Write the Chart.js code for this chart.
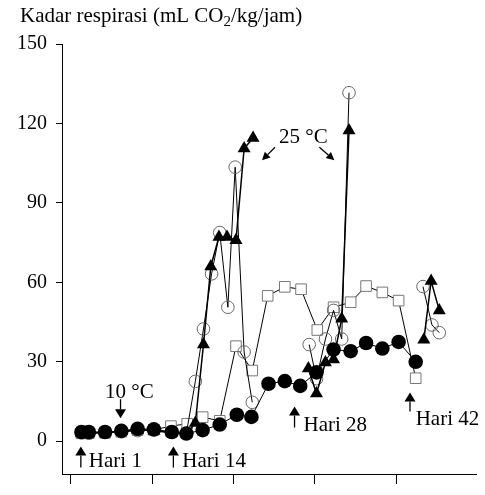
<!DOCTYPE html>
<html>
<head>
<meta charset="utf-8">
<script src="https://cdn.jsdelivr.net/npm/chart.js@4.4.0/dist/chart.umd.min.js"></script>
<style>
  html, body { margin: 0; padding: 0; background: #fff; }
  #wadah { width: 485px; height: 495px; }
</style>
</head>
<body>
<div id="wadah"><canvas id="grafikRespirasi" width="485" height="495"></canvas></div>
<script>
// hari pengamatan (sumbu x) dan kadar respirasi, mL CO2/kg/jam (sumbu y)
const hariBulat = [1.3, 2.2, 4.2, 6.2, 8.2, 10.2, 12.4, 14.2, 16.2, 18.3, 20.4, 22.2, 24.3, 26.3, 28.2, 30.2, 32.3, 34.4, 36.3, 38.3, 40.3, 42.4];
const nilaiBulat = [3.5, 3.5, 3.5, 3.9, 4.7, 4.5, 3.5, 2.9, 4.2, 6.3, 10.0, 9.2, 21.7, 22.7, 20.9, 26.0, 34.6, 34.0, 37.1, 35.0, 37.5, 30.0];

const hariSegitiga = [1.3, 2.2, 4.2, 6.2, 8.2, 10.2, 12.4, 14.2, 15.3, 16.3, 17.2, 18.2, 19.2, 20.3, 21.3, 22.4, 26, 29.2, 30.2, 31.3, 32.3, 33.3, 34.2, 39, 43.4, 44.3, 45.3];
const nilaiSegitiga = [3.0, 3.2, 3.3, 3.8, 4.3, 4.0, 3.2, 2.8, 6.9, 36.5, 66.0, 77.1, 77.1, 75.9, 110.5, 114.5, null, 27.5, 18.0, 29.7, 30.9, 46.3, 117.3, null, 38.3, 60.5, 49.4];

const hariLingkaran = [1.3, 2.2, 4.2, 6.2, 8.2, 10.2, 12.4, 14.2, 15.3, 16.3, 17.3, 18.3, 19.3, 20.2, 21.3, 22.3, 26, 29.3, 30.2, 31.3, 32.3, 33.3, 34.2, 39, 43.3, 44.4, 45.3];
const nilaiLingkaran = [3.2, 3.0, 3.4, 3.6, 4.0, 4.2, 3.4, 3.0, 22.6, 42.4, 63.2, 78.8, 50.6, 103.5, 33.7, 14.7, null, 36.5, 23.6, 38.6, 49.4, 38.6, 131.6, null, 58.4, 43.9, 41.0];

const hariKotak = [1.3, 2.2, 4.2, 6.2, 8.2, 10.2, 12.3, 14.3, 16.2, 18.3, 20.3, 22.3, 24.2, 26.3, 28.3, 30.3, 32.3, 34.4, 36.3, 38.3, 40.3, 42.4];
const nilaiKotak = [3.0, 3.0, 3.2, 3.6, 4.2, 4.3, 5.7, 6.6, 9.1, 7.7, 35.9, 26.7, 54.9, 58.3, 57.4, 42.0, 50.6, 52.5, 58.6, 56.2, 53.1, 23.8];

const tickHari = [0, 10, 20, 30, 40];
const tickNilai = [0, 30, 60, 90, 120, 150];

const judulSumbuY = ['Kadar respirasi (mL CO', '2', '/kg/jam)'];

// anotasi: ujung panah dalam satuan data, ekor panah dalam offset piksel
const anotasi = [
    { teks: '10 °C', posTeks: [4.2, 16.4], ujung: [6.1, 8.7], ekor: [0, -19] },
    { teks: '25 °C', posTeks: [25.6, 112.8], ujung: [23.5, 106.1], ekor: [13, -13] },
    { teks: '', posTeks: null, ujung: [32.4, 106.1], ekor: [-15, -13] },
    { teks: 'Hari 1', posTeks: [2.2, -9.8], ujung: [1.22, -2.0], ekor: [0, 21] },
    { teks: 'Hari 14', posTeks: [13.7, -9.8], ujung: [12.6, -2.0], ekor: [0, 21] },
    { teks: 'Hari 28', posTeks: [28.6, 3.9], ujung: [27.5, 13.1], ekor: [0, 21] },
    { teks: 'Hari 42', posTeks: [42.4, 6.1], ujung: [41.7, 18.4], ekor: [0, 19] }
];

const hurufSerif = "'Liberation Serif', 'Times New Roman', serif";

const gabung = (xs, ys) => xs.map((x, i) => ({ x: x, y: ys[i] }));

function gambarPanah(ctx, x1, y1, x2, y2) {
    const sudut = Math.atan2(y2 - y1, x2 - x1);
    const vertikal = Math.abs(x2 - x1) < 0.5;
    const panjang = vertikal ? 9 : 8;
    const lebar = vertikal ? 11 : 8;
    const bx = x2 - Math.cos(sudut) * panjang;
    const by = y2 - Math.sin(sudut) * panjang;
    ctx.beginPath();
    ctx.moveTo(x1, y1);
    ctx.lineTo(bx, by);
    ctx.lineWidth = 1.3;
    ctx.stroke();
    const nx = -Math.sin(sudut) * lebar / 2;
    const ny = Math.cos(sudut) * lebar / 2;
    ctx.beginPath();
    ctx.moveTo(x2, y2);
    ctx.lineTo(bx + nx, by + ny);
    ctx.lineTo(bx - nx, by - ny);
    ctx.closePath();
    ctx.fill();
}

const pluginAnotasi = {
    id: 'anotasi',
    afterDraw(chart) {
        const ctx = chart.ctx;
        const sx = chart.scales.x;
        const sy = chart.scales.y;
        ctx.save();
        ctx.fillStyle = '#000';
        ctx.strokeStyle = '#000';
        ctx.textBaseline = 'alphabetic';
        ctx.textAlign = 'left';

        // judul sumbu y dengan subskrip
        ctx.font = '21px ' + hurufSerif;
        let x = 20;
        ctx.fillText(judulSumbuY[0], x, 22);
        x += ctx.measureText(judulSumbuY[0]).width;
        ctx.font = '15px ' + hurufSerif;
        ctx.fillText(judulSumbuY[1], x, 26);
        x += ctx.measureText(judulSumbuY[1]).width;
        ctx.font = '21px ' + hurufSerif;
        ctx.fillText(judulSumbuY[2], x, 22);

        anotasi.forEach(a => {
            const ux = sx.getPixelForValue(a.ujung[0]);
            const uy = sy.getPixelForValue(a.ujung[1]);
            gambarPanah(ctx, ux + a.ekor[0], uy + a.ekor[1], ux, uy);
            if (a.teks) {
                ctx.font = '21px ' + hurufSerif;
                ctx.fillText(a.teks, sx.getPixelForValue(a.posTeks[0]), sy.getPixelForValue(a.posTeks[1]));
            }
        });
        ctx.restore();
    }
};

const ctx = document.getElementById('grafikRespirasi').getContext('2d');

new Chart(ctx, {
    type: 'line',
    data: {
        datasets: [
            {
                label: 'bulat hitam',
                data: gabung(hariBulat, nilaiBulat),
                borderColor: '#000',
                borderWidth: 1,
                pointStyle: 'circle',
                pointRadius: 7.3,
                pointBackgroundColor: '#000',
                pointBorderColor: '#000',
                pointBorderWidth: 0
            },
            {
                label: 'segitiga hitam',
                data: gabung(hariSegitiga, nilaiSegitiga),
                borderColor: '#000',
                borderWidth: 1.5,
                pointStyle: 'triangle',
                pointRadius: 7.5,
                pointBackgroundColor: '#000',
                pointBorderColor: '#000',
                pointBorderWidth: 0
            },
            {
                label: 'lingkaran putih',
                data: gabung(hariLingkaran, nilaiLingkaran),
                borderColor: '#000',
                borderWidth: 1,
                pointStyle: 'circle',
                pointRadius: 6.3,
                pointBackgroundColor: 'rgba(0,0,0,0)',
                pointBorderColor: '#666',
                pointBorderWidth: 1
            },
            {
                label: 'kotak putih',
                data: gabung(hariKotak, nilaiKotak),
                borderColor: '#000',
                borderWidth: 1,
                pointStyle: 'rect',
                pointRadius: 7.5,
                pointBackgroundColor: '#fff',
                pointBorderColor: '#777',
                pointBorderWidth: 1
            }
        ]
    },
    options: {
        responsive: false,
        animation: false,
        spanGaps: false,
        layout: { padding: { left: 0, top: 44, right: 5, bottom: 0 } },
        elements: { line: { tension: 0 } },
        plugins: {
            legend: { display: false },
            tooltip: { enabled: false }
        },
        scales: {
            x: {
                type: 'linear',
                min: -1.0976,
                max: 49.878,
                afterBuildTicks: s => { s.ticks = tickHari.map(v => ({ value: v })); },
                afterFit: s => { s.height = 11; },
                ticks: { display: false },
                grid: { drawOnChartArea: false, drawTicks: true, tickLength: 10, color: '#000', lineWidth: 1 },
                border: { display: true, color: '#000', width: 1 }
            },
            y: {
                type: 'linear',
                min: -12.37,
                max: 150,
                afterBuildTicks: s => { s.ticks = tickNilai.map(v => ({ value: v })); },
                afterFit: s => { s.width = 62; },
                ticks: {
                    color: '#000',
                    padding: 9,
                    font: { family: hurufSerif, size: 20 }
                },
                grid: { drawOnChartArea: false, drawTicks: true, tickLength: 6, color: '#000', lineWidth: 1 },
                border: { display: true, color: '#000', width: 1 }
            }
        }
    },
    plugins: [pluginAnotasi]
});
</script>
</body>
</html>
